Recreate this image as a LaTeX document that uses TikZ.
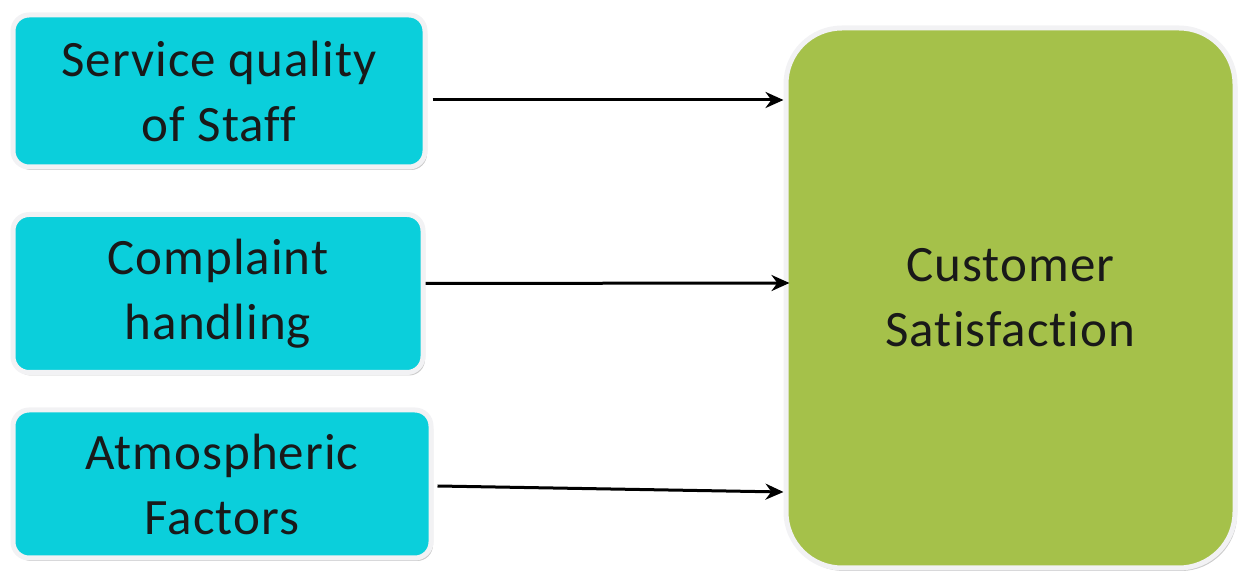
\documentclass[tikz,border=0pt]{standalone}
\usepackage{fontspec}
\setmainfont{Carlito}[Ligatures={NoCommon}, LetterSpace=2]
\usetikzlibrary{shadows,arrows.meta}
\definecolor{cyanbox}{HTML}{0BCFDB}
\definecolor{greenbox}{HTML}{A5C14A}
\definecolor{rim}{HTML}{F2F2F4}
\tikzset{
  x=1pt,y=1pt,
  leftbox/.style={rectangle, rounded corners=16pt, fill=cyanbox, draw=rim, line width=5pt,
    drop shadow={shadow xshift=2pt, shadow yshift=-3pt, fill=black!45, opacity=0.45},
    align=center, font=\fontsize{51}{65}\selectfont, text=black!90, inner sep=0pt},
  rightbox/.style={leftbox, fill=greenbox, rounded corners=56pt},
  conn/.style={draw=black, line width=3pt, -{Stealth[length=18pt,width=16pt]}}
}
\begin{document}
\begin{tikzpicture}
\useasboundingbox (0,0) rectangle (1242,572);
\node[leftbox, minimum width=412pt, minimum height=152pt] (b1) at (219,481) {Service quality\\of Staff};
\node[leftbox, minimum width=410pt, minimum height=158pt] (b2) at (218,278.5) {Complaint\\handling};
\node[leftbox, minimum width=418pt, minimum height=148pt] (b3) at (222,88) {Atmospheric\\Factors};
\node[rightbox, minimum width=449pt, minimum height=540pt] (g) at (1010.5,274) {Customer\\Satisfaction};
\draw[conn] ([yshift=-9pt]b1.east) ++(5pt,0) -- ([yshift=198pt]g.west);
\draw[conn] ([yshift=10pt]b2.east) -- ([yshift=15pt,xshift=6pt]g.west);
\draw[conn] ([yshift=-2pt,xshift=4pt]b3.east) -- ([yshift=-194pt]g.west);
\end{tikzpicture}
\end{document}
